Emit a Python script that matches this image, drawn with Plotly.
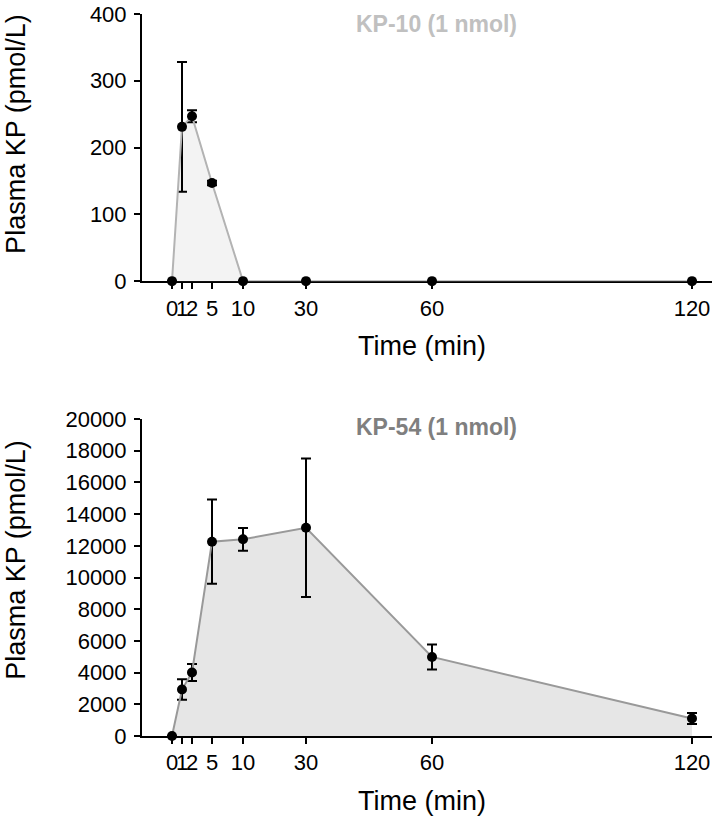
import numpy as np
import plotly.graph_objects as go
from plotly.subplots import make_subplots

# ---- data ----
time_min = [0, 1, 2, 5, 10, 30, 60, 120]
tick_labels = ["0", "1", "2", "5", "10", "30", "60", "120"]

kp10_mean = [0, 231, 247, 147, 0, 0, 0, 0]
kp10_err = [0, 97, 9, 3.5, 0, 0, 0, 0]

kp54_mean = [0, 2930, 4010, 12260, 12410, 13140, 4990, 1100]
kp54_err = [0, 650, 540, 2660, 720, 4370, 790, 350]

# segmented (non-linear) time axis scale: time -> axis units
scale_time = [0, 1, 2, 5, 10, 30, 60, 120]
scale_unit = [0, 10, 20, 40, 71, 134, 260, 520]


def tx(t):
    return np.interp(t, scale_time, scale_unit)


FONT = "Liberation Sans, Arial, Helvetica, sans-serif"

fig = make_subplots(rows=2, cols=1, vertical_spacing=0.0)

x = tx(time_min)

fig.add_trace(go.Scatter(
    x=x, y=kp10_mean, mode="lines+markers",
    line=dict(color="#b3b3b3", width=2),
    fill="tozeroy", fillcolor="#f3f3f3",
    marker=dict(color="black", size=10),
    error_y=dict(type="data", array=kp10_err, color="black", thickness=2, width=5),
    cliponaxis=False, showlegend=False), row=1, col=1)

fig.add_trace(go.Scatter(
    x=x, y=kp54_mean, mode="lines+markers",
    line=dict(color="#999999", width=2),
    fill="tozeroy", fillcolor="#e6e6e6",
    marker=dict(color="black", size=10),
    error_y=dict(type="data", array=kp54_err, color="black", thickness=2, width=5),
    cliponaxis=False, showlegend=False), row=2, col=1)

xcommon = dict(
    range=[-30, 540], tickmode="array", tickvals=list(tx(time_min)), ticktext=tick_labels,
    tickangle=0, automargin=False,
    showline=True, linecolor="black", linewidth=2, ticks="outside", ticklen=6,
    tickwidth=2, tickcolor="black", showgrid=False, zeroline=False,
    tickfont=dict(family=FONT, size=22, color="black"),
    layer="below traces",
)
ycommon = dict(
    showline=True, linecolor="black", linewidth=2, ticks="outside", ticklen=6,
    tickwidth=2, tickcolor="black", showgrid=False, zeroline=False,
    tickangle=0, automargin=False, tickformat="d", ticklabelstandoff=3,
    tickfont=dict(family=FONT, size=22, color="black"),
)

fig.update_xaxes(**xcommon)
fig.update_yaxes(**ycommon)

TITLE_FONT = dict(family=FONT, size=27, color="black")

fig.update_layout(
    width=717, height=819,
    margin=dict(l=142, r=5, t=14, b=83),
    paper_bgcolor="white", plot_bgcolor="white",
    xaxis=dict(domain=[0, 1], anchor="y"),
    yaxis=dict(domain=[0.630, 1.0], range=[0, 400], dtick=100, anchor="x"),
    xaxis2=dict(domain=[0, 1], anchor="y2"),
    yaxis2=dict(domain=[0.0, 0.439], range=[0, 20000], dtick=2000, anchor="x2"),
    annotations=[
        dict(text="<b>KP-10 (1 nmol)</b>", xref="paper", yref="paper", x=0.5175, y=0.986,
             yanchor="middle", showarrow=False, font=dict(family=FONT, size=23, color="#c0c0c0")),
        dict(text="<b>KP-54 (1 nmol)</b>", xref="paper", yref="paper", x=0.5175, y=0.428,
             yanchor="middle", showarrow=False, font=dict(family=FONT, size=23, color="#7f7f7f")),
        dict(text="Time (min)", xref="paper", yref="paper", x=0.491, y=0.540,
             yanchor="middle", showarrow=False, font=TITLE_FONT),
        dict(text="Time (min)", xref="paper", yref="paper", x=0.491, y=-0.090,
             yanchor="middle", showarrow=False, font=TITLE_FONT),
        dict(text="Plasma KP (pmol/L)", xref="paper", yref="paper", x=-0.221, y=0.834,
             xanchor="center", yanchor="middle", textangle=-90, showarrow=False, font=TITLE_FONT),
        dict(text="Plasma KP (pmol/L)", xref="paper", yref="paper", x=-0.221, y=0.244,
             xanchor="center", yanchor="middle", textangle=-90, showarrow=False, font=TITLE_FONT),
    ],
)

fig.write_html("out.html", config={"displayModeBar": False},
               post_script="document.body.style.margin='0px';")
